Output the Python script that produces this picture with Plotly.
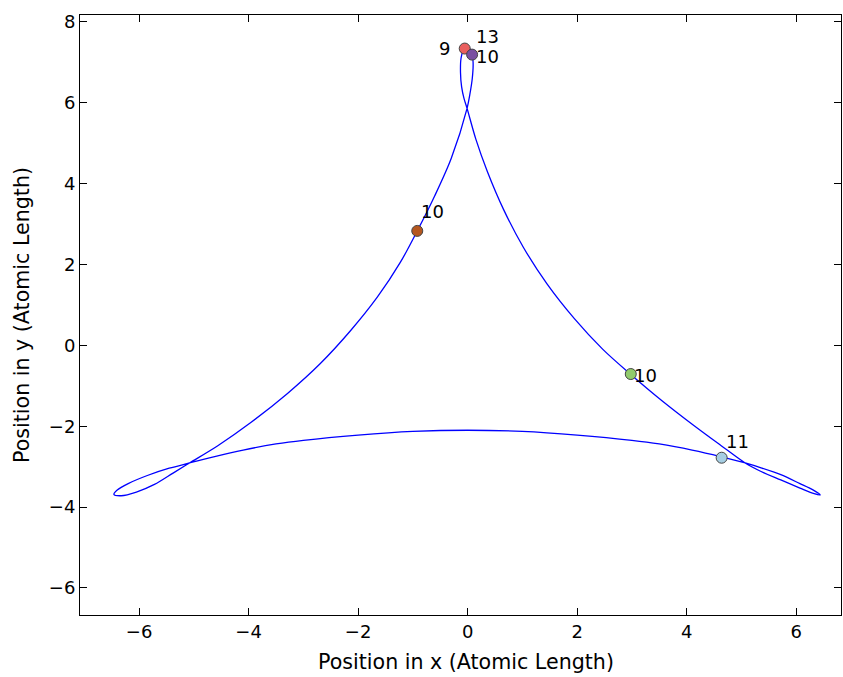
import plotly.graph_objects as go

# Trajectory (Atomic Length units), in drawing order
path_x = [0.0, -1.0, -2.0, -3.0, -3.5, -4.1, -4.62, -5.08,
          -5.45, -5.85, -6.20, -6.40, -6.46, -6.33, -6.05, -5.72, -5.38, -5.08,
          -4.57, -3.96, -3.29, -2.69, -2.14, -1.65, -1.23, -0.92, -0.60, -0.30, -0.01,
          0.04, 0.085, 0.10, 0.07, 0.0, -0.07, -0.12, -0.13, -0.11, -0.065, -0.01,
          0.15, 0.36, 0.66, 1.02, 1.45, 1.95, 2.47, 2.98, 3.55, 4.12, 4.62, 5.07,
          5.36, 5.72, 6.07, 6.33, 6.44, 6.30, 6.07, 5.72, 5.36, 5.07,
          4.62, 4.1, 3.5, 3.0, 2.0, 1.0, 0.0]
path_y = [-2.10, -2.13, -2.22, -2.35, -2.44, -2.59, -2.75, -2.91,
          -3.04, -3.22, -3.42, -3.58, -3.69, -3.72, -3.63, -3.44, -3.16, -2.91,
          -2.49, -1.91, -1.19, -0.45, 0.36, 1.19, 2.05, 2.83, 3.70, 4.62, 5.86,
          6.20, 6.60, 7.00, 7.27, 7.37, 7.32, 7.10, 6.75, 6.40, 6.10, 5.86,
          5.10, 4.30, 3.35, 2.42, 1.52, 0.66, -0.10, -0.72, -1.37, -1.97, -2.47, -2.91,
          -3.12, -3.33, -3.53, -3.67, -3.70, -3.57, -3.42, -3.20, -3.03, -2.91,
          -2.75, -2.59, -2.44, -2.35, -2.22, -2.13, -2.10]

# Particle markers
marker_x = [-0.053, 0.082, -0.92, 2.98, 4.64]
marker_y = [7.34, 7.19, 2.83, -0.71, -2.78]
marker_colors = ["#ea5f5e", "#7a4fa1", "#b5571f", "#91cb6c", "#a6cee3"]

# Labels
label_text = ["9", "13", "10", "10", "10", "11"]
label_x = [-0.42, 0.36, 0.36, -0.64, 3.25, 4.93]
label_y = [7.34, 7.64, 7.15, 3.30, -0.74, -2.38]

x_ticks = [-6, -4, -2, 0, 2, 4, 6]
y_ticks = [-6, -4, -2, 0, 2, 4, 6, 8]

x_title = "Position in x (Atomic Length)"
y_title = "Position in y (Atomic Length)"

FONT = "DejaVu Sans"

fig = go.Figure()
fig.add_trace(go.Scatter(
    x=path_x, y=path_y, mode="lines",
    line=dict(color="#0000ff", width=1.3, shape="spline", smoothing=0.9),
    hoverinfo="skip", showlegend=False))
fig.add_trace(go.Scatter(
    x=marker_x, y=marker_y, mode="markers",
    marker=dict(size=11, color=marker_colors, line=dict(color="#444444", width=1)),
    showlegend=False))

for t, lx, ly in zip(label_text, label_x, label_y):
    fig.add_annotation(x=lx, y=ly, text=t, showarrow=False,
                       font=dict(family=FONT, size=18, color="black"),
                       xanchor="center", yanchor="middle")

# x axis title (placed as paper annotation to match the original's centring)
fig.add_annotation(x=0.507, y=-0.078, xref="paper", yref="paper", text=x_title,
                   showarrow=False, xanchor="center", yanchor="middle",
                   font=dict(family=FONT, size=20.6, color="black"))

axis_common = dict(
    showgrid=False, zeroline=False, showline=True, linecolor="black", linewidth=1,
    mirror="ticks", ticks="inside", ticklen=7, tickcolor="black", tickwidth=1,
    tickfont=dict(family=FONT, size=18, color="black"),
)
fig.update_xaxes(range=[-7.08, 6.82], tickvals=x_ticks, **axis_common)
fig.update_yaxes(range=[-6.67, 8.17], tickvals=y_ticks,
                 title=dict(text=y_title,
                            font=dict(family=FONT, size=20.6, color="black"), standoff=13),
                 **axis_common)
fig.update_layout(
    width=843, height=677,
    margin=dict(l=80, r=2, t=15, b=62, autoexpand=False),
    paper_bgcolor="white", plot_bgcolor="white",
    font=dict(family=FONT, color="black"),
)
fig.write_html("out.html")
